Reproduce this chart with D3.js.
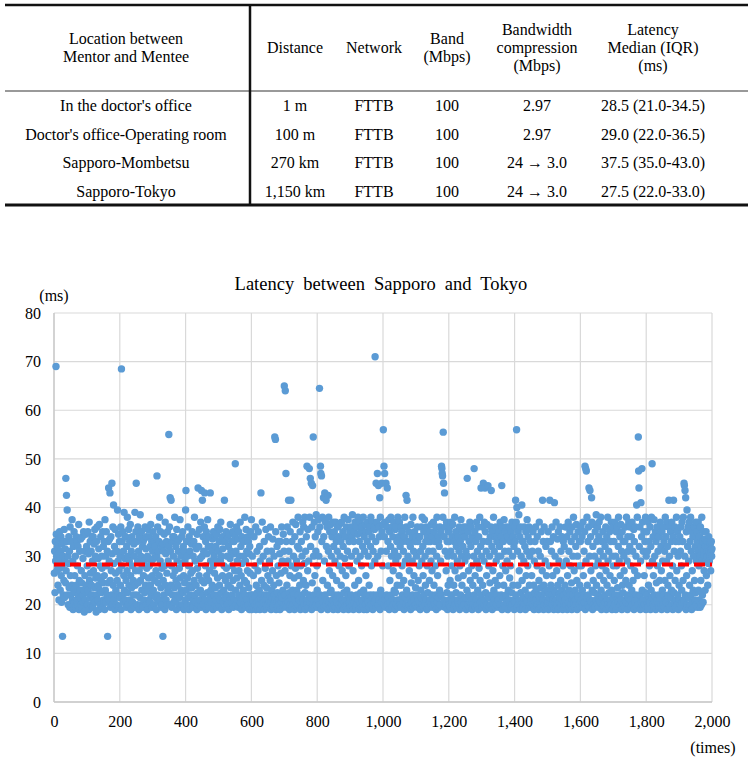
<!DOCTYPE html>
<html>
<head>
<meta charset="utf-8">
<script src="https://cdn.jsdelivr.net/npm/d3@7"></script>
<style>
  body { margin: 0; background: #fff; }
  svg text { font-family: "Liberation Serif", "DejaVu Serif", "Noto Serif", Tinos, serif; fill: #000; }
</style>
</head>
<body>
<div id="chart"></div>
<script>
// table values
var headers = [
    ["Location between", "Mentor and Mentee"],
    ["Distance"],
    ["Network"],
    ["Band", "(Mbps)"],
    ["Bandwidth", "compression", "(Mbps)"],
    ["Latency", "Median (IQR)", "(ms)"]
];
var locations = ["In the doctor's office", "Doctor's office-Operating room", "Sapporo-Mombetsu", "Sapporo-Tokyo"];
var distances = ["1 m", "100 m", "270 km", "1,150 km"];
var networks = ["FTTB", "FTTB", "FTTB", "FTTB"];
var bands = ["100", "100", "100", "100"];
var compressions = ["2.97", "2.97", "24 \u2192 3.0", "24 \u2192 3.0"];
var latencies = ["28.5 (21.0-34.5)", "29.0 (22.0-36.5)", "37.5 (35.0-43.0)", "27.5 (22.0-33.0)"];

var latencyMs = [
26.5,31,22.5,33,29,69,34.5,30,27,32,28,24,33.5,30.5,21,29,35,27.5,23,31,34,26,20.5,32.5,28,13.5,30,22,33,25,35.5,21.5,29,31.5,24.5,46,27,42.5,33,39.5,22,30,20,28.5,34,23.5,31,19.5,36,26,
22,33,20,24,37.5,21,29,19,32,23,35,20.5,26,22.5,30,19.5,34,24,21,33,28,20,32,22,36.5,19,25,31,23,21.5,33.5,20,27,24.5,19.5,34,22,29.5,20.5,35,23,18.5,31,26,21,34.5,24,19,32,22.5,
28,20,35,23,30.5,19,37,25,21.5,33,26.5,20,31,24,34,22,29,19.5,34,27,21,32.5,23.5,35.5,20.5,30,25.5,18.5,33,22,36,26,21,29.5,24,31.5,19,36.5,23,28,20,34,25,22.5,30,27.5,19.5,35,24.5,32,
21,33,26,19,37.5,23,30,20.5,35,28,22,31,13.5,24.5,33,44,21,29,33.5,43,25,19.5,34,27,22,45,30.5,20,36,24,40.5,28.5,21,32,19,35.5,26.5,23,31,20,31,25,39.5,22,29,34.5,19.5,27,33,21.5,
30,24,36,19,68.5,28,33,22,35,20.5,31,26,39,23,29.5,34,21,34,25,19.5,32,27,38,22.5,30,20,35.5,24,29,33,21,36.5,26,19,31,23.5,34,28,20.5,33,25,22,32.5,30,19.5,39,24,27,35,45,
22,33,20,29,36,24.5,31,19,27,34,21.5,38.5,25,30,20,35,23,28,32,19.5,33,26,21,33.5,29,22.5,36,24,31.5,20,34,27.5,19,30,23,35.5,25.5,21,34,28,20.5,32,24,36.5,22,29,33,19.5,26,31,
35,23,29.5,20,33,25,32,21.5,34,27,19,30,46.5,22,36,24.5,31,20.5,33,26,38,21,29,35,23.5,19.5,32,27.5,20,32.5,13.5,25,31,22,34.5,28,19,37,24,30.5,21,33,26.5,20,35,23,29,32,55,22.5,
36,20,42,31,24,41.5,28,19.5,33,22,34,26,30,20.5,34,23.5,38,27,21,32,25,19,35.5,29,22,33,24,31,20,33.5,27.5,21.5,37.5,25.5,19.5,30,23,34,28.5,20,35,22.5,32,26,19,31,24.5,29,21,39.5,
43.5,23,33,20,30,25.5,36,21.5,28,19,34,24,31,22,33,26.5,20,32.5,23.5,35,27,19.5,30,21,33,25,38,22,29,20.5,32,24,31.5,19,34.5,27.5,22.5,44,20,32,26,35.5,21,29.5,23,37,19.5,43.5,25,30,
41.5,22,34,20,31,24.5,36,43,21,28,33,19,35,26,30.5,22.5,37.5,20,32,25,19.5,34,27,21.5,43,29,23,32,20.5,31,24,33.5,19,28,35,22,30,26.5,20,34,23.5,32,21,34.5,19.5,29,25.5,36,22,31,
20,33,24,35.5,21,29,37,22.5,30,19,34,26,31.5,20.5,33,23,28,41.5,21.5,33,25,19.5,35,27.5,22,30,20,34,24,32,19,34.5,26,21,29.5,36.5,23.5,31,20.5,33,28,22,35,25,19.5,30.5,33,21,27,34,
49,23,31,20,36,25.5,29,21,33.5,19.5,35,27,22,30,24,37,20.5,32,26,19,34,28.5,21.5,33,23,30,20,33,25,38,22,29,19.5,35.5,24.5,31,21,27,34,20,33,23.5,30.5,19,32,26.5,22,35,20.5,37.5,
19,22,30,20.5,21,26,19.5,34,22,20,28,21.5,36,19,24,20.5,31,22.5,19.5,27,35,21,20,23,32,19,29,21.5,43,20,25,22,37,19.5,21,30,20.5,24,33,19,22,27.5,21,35.5,20,23.5,19.5,31,22,26,
20,34,21,19.5,29,22,25,36,20.5,19,31,23,21.5,27,33.5,20,19.5,24,30,22,54.5,21,54,35,19,26,20.5,32,22.5,19.5,28,33,21,24.5,20,30.5,19,33,22,26.5,20.5,36,21.5,29,19.5,23,34.5,20,31,65,
22,27,64,20,47,33,19.5,24,36,21,29,20.5,41.5,31,22.5,19,26,35,20,41.5,28,21.5,33,19.5,23,37,20,30,22,25.5,19,34,21,27.5,36.5,20.5,29,23,19.5,32,22,38,20,26,31.5,21,24,35,19,28,
20.5,33,22,30,19.5,37,21,25,36,20,28.5,38,22.5,19,31,24,34,21,48.5,20,27,35.5,19.5,29,22,48,38,20.5,46,32,21.5,45,19,36,24.5,44.5,20,54.5,30,22,37,19.5,26,34,21,31,38.5,20,28,23,
19.5,35,21,37.5,30,20,64.5,36,22,48.5,47,19,46.5,33,21.5,38,25,20.5,42,34,19.5,29,43,22,37,20,41.5,32,21,36,24,19,42.5,31,38,20.5,27,35,22.5,19.5,36.5,23,30,20,34,21,26,37,19,32,
20,35,22,29,19.5,37,21,33,25,20.5,31,36,19,22,34,28,20,36.5,21.5,30,19.5,33,24,37,20,27,21,35,32,19,22.5,38,20.5,29.5,21,34,26,19.5,36,23,20,31,22,37.5,19,28,33,20.5,35,21,
19.5,36,22,30,20,34,38.5,21,27,19,33,35,20.5,24,37,21.5,31,19.5,36,22,29,20,34.5,38,21,25,19,33,37,20.5,30,22.5,35,19.5,28,36,21,32,20,38,23,19,34,31,21.5,36.5,20,26,35,22,
19,33,37,21,30,20.5,35,24,19.5,36,22,32,38,20,28,34,21.5,37,19,31,22,36,20.5,35.5,29,71,21,33,45,19.5,37,22,47,30,20,44.5,36,21,34,42,19,38,23,31,20.5,45,35,22,28,36.5,
56,20,48.5,34,47,21,37,19.5,45,31,22,36,44,20,33,28,21.5,37.5,19,35,25,20.5,32,38,22,30,19.5,36,21,34,27,20,37,23,31,19,35.5,22.5,29,36,20,33,24,21,38,30,19.5,34,26,37,
21,32,20,36,24,19.5,35,28,22,33,20.5,31,25,19,34,38,21.5,29,20,42.5,36,23,41.5,33,19.5,30,22,35,20,27,33,21,32,19,36.5,24.5,20.5,34,29,22,38,19.5,31,26,21,35,20,33,23.5,34,
20,30,22,36,19.5,33,25,21,34,28,20.5,34,19,31,23,36,21.5,29,38,20,32,26,19.5,35,22,37.5,20,30,24,33,21,36,19,28,34,22.5,20,33,31,19.5,25,35,21,33,20,29,36.5,22,27,34,
19.5,31,37,21,24,35,20,33,28,22,36,19,30,38,20.5,26,34,21.5,33,19.5,32,23,36,20,29,35,22,48.5,48,47,46.5,38,55.5,45,21,34,43,19.5,31,36,20,27,37,22.5,33,19,30,24,35,21,
33,20,36,25,19.5,31,37,22,28,34,20.5,36.5,19,30,24,33,21,38,27,20,35,22.5,32,19.5,33,29,21,34,25.5,20,31,36,19,28,33,22,37.5,20.5,30,24,35,19.5,32,26,21,36,20,34,29,34,
21.5,31,19,36,23,46,30,20,35,27,22,33,19.5,37,25,20.5,32,36,21,28,19,34,24,33.5,20,30,48,22,35,26,19.5,33,21,37,29,20,31,23,36,19,34,27.5,21,38,25,20.5,32,44,22,30,
19.5,36,24,33,45,20,29,37,21,44,35,22.5,19,31,26,36.5,20,33,44.5,21.5,28,33,19.5,30,24.5,34,20,36,43.5,22,32,19,35,27,20.5,38,23,31,21,34,25,19.5,36,29,20,33,22,34,24,30,
21,35,19.5,32,26,37,20,30,22,34,44.5,19,36,28,21.5,33,24,37.5,20,31,19.5,35,27,22,36,20.5,29,34,19,34,23,31,21,36,25.5,20,33,28,19.5,35,22.5,37,20,30,24,34,21,32,19,36,
20.5,33,41.5,22,37,56,40,19.5,31,24,35,20,38.5,27,21,34,19,36,22.5,30,20,40.5,25,33,19.5,33,21.5,29,36,20,32,23,19,35,26,21,31,37.5,20.5,28,34,22,19.5,36,24,30,20,33,21,35.5,
19.5,26,22,31,20,35,21,24,19,29,22.5,33,20.5,36,21,23,19.5,28,34,20,22,31,19,25,37,21.5,20,30,23.5,19.5,35,22,20.5,27,41.5,21,33,19,24,36,20,22.5,29,19.5,32,21,26,20,33,23,
20.5,35,19,22,28,21.5,41.5,20,33,24,19.5,31,22,36,20,26,21,34,19,23,41,20.5,30,22.5,19.5,37,21,27,20,33.5,24,19,35,22,29,20.5,21.5,36,19.5,25,31,20,23,34,21,19,28,33,22,20.5,
32,19.5,24,21,36,20,29,22.5,34,19,26,21.5,37,20.5,31,23,19.5,35,22,28,20,33,24.5,19,36,21,30,22,38,20.5,27,19.5,34,23,21,32,20,36.5,25,19,30,22,35,21.5,28,20,33,24,19.5,33,
21,36,28,20,34,23,19.5,37,26,22,31,20.5,35,48.5,19,48,29,47.5,21.5,38,24,20,33,22,36,44,19.5,30,43.5,21,34,27,20.5,42,37,23,19,32,25,20,36.5,22.5,30,19.5,35,28,21,38.5,24,33,
20,36,22,29,19.5,34,37,21,26,31,20.5,38,23,19,33,28,21.5,35,20,30,25,19.5,33,22,32,20.5,36,27,19,34,24,21,38,29,20,31,22.5,19.5,35,26,21,33,20,37,23,19,30,36,21.5,28,
19.5,33,25,20,37,22,30,19,35,28,21,36,23.5,20.5,32,38,19.5,29,22,34,26,20,36.5,21,31,19,35,24,22.5,33,20,30,27,19.5,33,21,36,25,20.5,38,22,29,19,34,31,21.5,37,24,20,32,
36,21,28,19.5,34,23,37,20,31,25,22,35.5,19,33,27,20.5,36,22,30,19.5,40.5,21,38,26,20,54.5,47.5,44,32,22,36,19,29,41,20.5,34,48,23,37,21,31,19.5,35,26,20,33,22.5,38,19,30,
22,35,20,31,19.5,37,24,21,33,28,20.5,36,19,32,23,38,21.5,49,29,20,34,26,19.5,37.5,22,30,20.5,35,19,33,24.5,21,36,28,20,31,34,22,19.5,34,25,21,37,20,32,27,19,35,23,29,
20,36,22,33,19.5,31,25,38,21,34,20.5,29,37,19,32,24,22,36,41.5,20,30,26,19.5,35,21.5,33,23,37,20,28,19,34,41.5,22.5,31,20.5,36,25,19.5,33,21,38,27,20,35,22,30,19,33,24,
21,34,20,31,36,19.5,28,23,37,20.5,33,25,38,21,45,44.5,30,43.5,22,42,19,35,26,39.5,20,32,36,21.5,29,19.5,37,24,33,20,38,22,31,19,35,27,20.5,34,23,30,19.5,36,25,21,32,37,
22.5,29,20,35,33,19.5,31,37,23,28,21,34,30,19.5,36,25,32,20,38,29,22,33,20.5,35,31,27,30,33.5,23,32,29,35,26,31,33,30,24,32,28.5,34,31,29,33,30,32.5,27,31,33,30,31.5
];
var refLine = 28.3; // red dashed reference level (ms)
var xTicks = [0, 200, 400, 600, 800, 1000, 1200, 1400, 1600, 1800, 2000];
var yTicks = [0, 10, 20, 30, 40, 50, 60, 70, 80];

var FONT = '"Liberation Serif", "DejaVu Serif", "Noto Serif", Tinos, serif';
var W = 753, H = 760;
var svg = d3.select('#chart').append('svg')
    .attr('width', W)
    .attr('height', H);

// ---------- table ----------
var colX = [126, 295, 374, 447, 537, 653];
var tLeft = 5, tRight = 748, tTop = 5, tHead = 91, tBottom = 205;

svg.append('line').attr('x1', tLeft).attr('x2', tRight).attr('y1', tTop).attr('y2', tTop)
    .attr('stroke', '#111').attr('stroke-width', 2.5);
svg.append('line').attr('x1', tLeft).attr('x2', tRight).attr('y1', tHead).attr('y2', tHead)
    .attr('stroke', '#777').attr('stroke-width', 1.5);
svg.append('line').attr('x1', tLeft).attr('x2', tRight).attr('y1', tBottom).attr('y2', tBottom)
    .attr('stroke', '#111').attr('stroke-width', 3);
svg.append('line').attr('x1', 250).attr('x2', 250).attr('y1', tTop).attr('y2', tBottom)
    .attr('stroke', '#111').attr('stroke-width', 2.5);

headers.forEach(function(lines, c) {
    var y0 = 53 - (lines.length - 1) * 9;
    lines.forEach(function(s, k) {
        svg.append('text')
            .attr('x', colX[c])
            .attr('y', y0 + k * 18)
            .attr('text-anchor', 'middle')
            .style('font-family', FONT)
            .style('font-size', '16px')
            .text(s);
    });
});

var cols = [locations, distances, networks, bands, compressions, latencies];
cols.forEach(function(col, c) {
    col.forEach(function(s, r) {
        svg.append('text')
            .attr('x', colX[c])
            .attr('y', 111 + r * 28.5)
            .attr('text-anchor', 'middle')
            .style('font-family', FONT)
            .style('font-size', '16px')
            .text(s);
    });
});

// ---------- scatter ----------
var margin = {left: 54, right: 41, top: 313, bottom: 58};
var x = d3.scaleLinear().domain([0, 2000]).range([margin.left, W - margin.right]);
var y = d3.scaleLinear().domain([0, 80]).range([H - margin.bottom, margin.top]);

var grid = svg.append('g');
grid.selectAll('.hg').data(yTicks).enter().append('line')
    .attr('x1', x(0)).attr('x2', x(2000))
    .attr('y1', function(d) { return y(d); }).attr('y2', function(d) { return y(d); })
    .attr('stroke', '#d9d9d9').attr('stroke-width', 1.2);
grid.selectAll('.vg').data(xTicks).enter().append('line')
    .attr('y1', y(0)).attr('y2', y(80))
    .attr('x1', function(d) { return x(d); }).attr('x2', function(d) { return x(d); })
    .attr('stroke', '#d9d9d9').attr('stroke-width', 1.2);

// axes lines
svg.append('line').attr('x1', x(0)).attr('x2', x(0)).attr('y1', y(0)).attr('y2', y(80))
    .attr('stroke', '#c8c8c8').attr('stroke-width', 1.3);
svg.append('line').attr('x1', x(0)).attr('x2', x(2000)).attr('y1', y(0)).attr('y2', y(0))
    .attr('stroke', '#c8c8c8').attr('stroke-width', 1.3);

var yAxis = svg.append('g')
    .attr('transform', 'translate(' + x(0) + ',0)')
    .call(d3.axisLeft(y).tickValues(yTicks).tickSize(0).tickPadding(13));
var xAxis = svg.append('g')
    .attr('transform', 'translate(0,' + y(0) + ')')
    .call(d3.axisBottom(x).tickValues(xTicks).tickFormat(d3.format(',')).tickSize(0).tickPadding(14));
[yAxis, xAxis].forEach(function(a) {
    a.attr('font-family', null).attr('font-size', null);
    a.select('.domain').remove();
    a.selectAll('text')
        .style('font-family', FONT)
        .style('font-size', '16px')
        .attr('fill', '#000');
});

svg.append('g').selectAll('circle')
    .data(latencyMs)
    .enter().append('circle')
    .attr('cx', function(d, i) { return x(i + 1); })
    .attr('cy', function(d) { return y(d); })
    .attr('r', 3.7)
    .attr('fill', '#5b9bd5');

svg.append('line')
    .attr('x1', x(0)).attr('x2', x(2000))
    .attr('y1', y(refLine)).attr('y2', y(refLine))
    .attr('stroke', '#ff0000').attr('stroke-width', 4)
    .attr('stroke-dasharray', '11,5');

svg.append('text')
    .attr('x', 381).attr('y', 290)
    .attr('text-anchor', 'middle')
    .style('font-family', FONT)
    .style('font-size', '18.5px')
    .style('word-spacing', '4.5px')
    .text('Latency between Sapporo and Tokyo');
svg.append('text')
    .attr('x', 54).attr('y', 301)
    .attr('text-anchor', 'middle')
    .style('font-family', FONT)
    .style('font-size', '16px')
    .text('(ms)');
svg.append('text')
    .attr('x', 713).attr('y', 753)
    .attr('text-anchor', 'middle')
    .style('font-family', FONT)
    .style('font-size', '16px')
    .text('(times)');
</script>
</body>
</html>
